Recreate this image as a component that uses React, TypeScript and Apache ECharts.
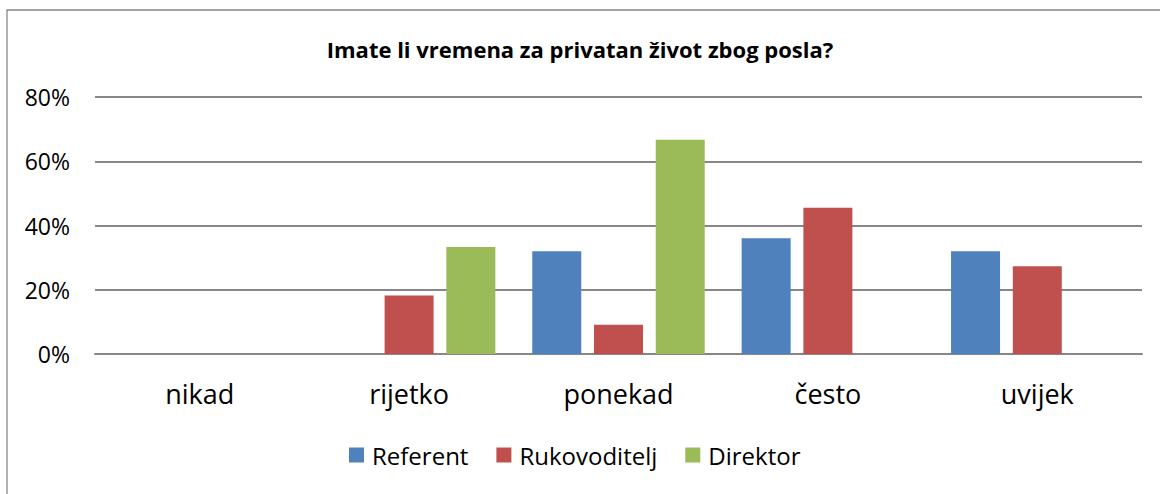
import React, { useEffect, useRef } from "react";
import * as echarts from "echarts";

const categories = ["nikad", "rijetko", "ponekad", "često", "uvijek"];
const referent = [0, 0, 32, 36, 32];
const rukovoditelj = [0, 18.2, 9.1, 45.5, 27.3];
const direktor = [0, 33.3, 66.7, 0, 0];
const seriesNames = ["Referent", "Rukovoditelj", "Direktor"];
const colors = ["#4F81BD", "#C0504D", "#9BBB59"];
const title = "Imate li vremena za privatan život zbog posla?";

const FONT = "'Open Sans', sans-serif";

export default function App() {
  const ref = useRef<HTMLDivElement>(null);
  useEffect(() => {
    if (!ref.current) return;
    const chart = echarts.init(ref.current, null, { renderer: "svg" });
    const data = [referent, rukovoditelj, direktor];
    chart.setOption({
      animation: false,
      backgroundColor: "#ffffff",
      textStyle: { fontFamily: FONT },
      title: {
        text: title,
        left: "center",
        top: 33,
        textStyle: { fontFamily: FONT, fontWeight: "bold", fontSize: 22, color: "#000" },
      },
      graphic: [
        {
          type: "rect",
          shape: { x: 7, y: 10, width: 1300, height: 700 },
          style: { fill: "none", stroke: "#878787", lineWidth: 1.3 },
          silent: true,
        },
      ],
      grid: { left: 95, right: 18, top: 97, bottom: 140, containLabel: false },
      legend: {
        data: seriesNames,
        left: 344,
        top: 438,
        itemWidth: 15,
        itemHeight: 15,
        itemGap: 28,
        icon: "rect",
        textStyle: { fontFamily: FONT, fontSize: 24, color: "#000", padding: [0, 0, 0, 3] },
      },
      xAxis: {
        type: "category",
        data: categories,
        axisLine: { show: true, lineStyle: { color: "#878787", width: 2 } },
        axisTick: { show: false },
        axisLabel: { fontFamily: FONT, fontSize: 27, color: "#000", margin: 26 },
      },
      yAxis: {
        type: "value",
        min: 0,
        max: 80,
        interval: 20,
        axisLine: { show: false },
        axisTick: { show: false },
        axisLabel: {
          formatter: "{value}%",
          fontFamily: FONT,
          fontSize: 23,
          color: "#000",
          margin: 25,
        },
        splitLine: { lineStyle: { color: "#878787", width: 2 } },
      },
      series: seriesNames.map((name, i) => ({
        name,
        type: "bar",
        data: data[i],
        barWidth: 49,
        barGap: "26%",
        itemStyle: { color: colors[i] },
      })),
    });
    return () => chart.dispose();
  }, []);
  return (
    <div
      ref={ref}
      style={{ position: "fixed", left: 0, top: 0, width: 1160, height: 494 }}
    />
  );
}
